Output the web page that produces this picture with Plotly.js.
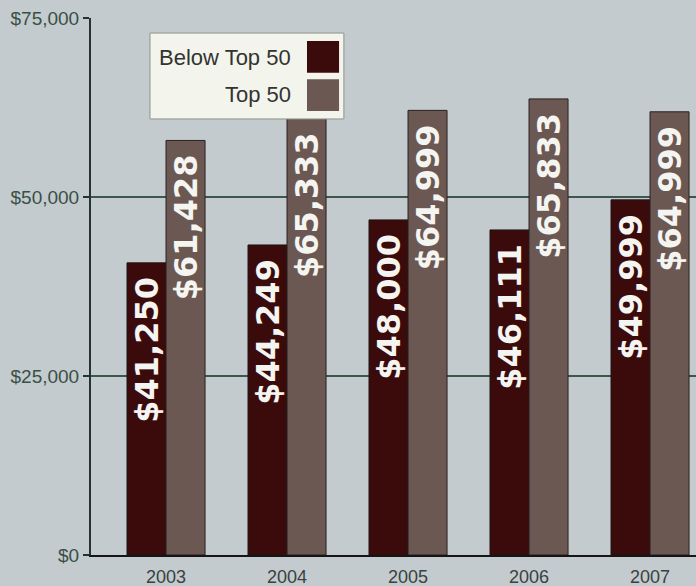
<!DOCTYPE html>
<html>
<head>
<meta charset="utf-8">
<script src="https://cdn.plot.ly/plotly-3.0.1.min.js"></script>
<style>html,body{margin:0;padding:0;background:#c3cbce;}#chart{width:696px;height:586px;}</style>
</head>
<body>
<div id="chart"></div>
<script>
// Categories and series (bar heights as drawn in the picture; labels as printed on the bars)
var years = ['2003', '2004', '2005', '2006', '2007'];
var belowTop50 = [40800, 43300, 46800, 45400, 49600];
var top50 = [57900, 61000, 62100, 63700, 61900];
var belowLabels = ['$41,250', '$44,249', '$48,000', '$46,111', '$49,999'];
var top50Labels = ['$61,428', '$65,333', '$64,999', '$65,833', '$64,999'];
var seriesNames = ['Below Top 50', 'Top 50'];
var yTicks = [0, 25000, 50000, 75000];
var yTickText = ['$0', '$25,000', '$50,000', '$75,000'];

var colBelow = '#3b0b0c';
var colTop = '#6c5853';
var txtFont = {family: 'DejaVu Sans', size: 32, color: '#f4f4f0', weight: 'bold'};
function padLabel(s) { return s + '\u00a0'; }

var traces = [
  {type: 'bar', name: seriesNames[0], x: years, y: belowTop50, text: belowLabels.map(padLabel),
   textposition: 'inside', insidetextanchor: 'end', textangle: -90, constraintext: 'none',
   textfont: txtFont, hoverinfo: 'none',
   marker: {color: colBelow, line: {color: '#1e1414', width: 1}}},
  {type: 'bar', name: seriesNames[1], x: years, y: top50, text: top50Labels.map(padLabel),
   textposition: 'inside', insidetextanchor: 'end', textangle: -90, constraintext: 'none',
   textfont: txtFont, hoverinfo: 'none',
   marker: {color: colTop, line: {color: '#2a2020', width: 1}}}
];

// manual legend (text left, swatch right)
var shapes = [
  {type: 'rect', xref: 'paper', yref: 'paper', x0: 0.0975, x1: 0.418, y0: 0.812, y1: 0.972,
   fillcolor: '#f3f5ec', line: {color: '#8d948c', width: 1}, layer: 'above'},
  {type: 'rect', xref: 'paper', yref: 'paper', x0: 0.357, x1: 0.410, y0: 0.898, y1: 0.957,
   fillcolor: colBelow, line: {width: 0}, layer: 'above'},
  {type: 'rect', xref: 'paper', yref: 'paper', x0: 0.357, x1: 0.410, y0: 0.827, y1: 0.886,
   fillcolor: colTop, line: {width: 0}, layer: 'above'}
];
var annotations = [
  {xref: 'paper', yref: 'paper', x: 0.334, y: 0.927, xanchor: 'right', yanchor: 'middle', showarrow: false,
   text: seriesNames[0], font: {family: 'Liberation Sans, Arial, sans-serif', size: 22, color: '#333333'}},
  {xref: 'paper', yref: 'paper', x: 0.334, y: 0.857, xanchor: 'right', yanchor: 'middle', showarrow: false,
   text: seriesNames[1], font: {family: 'Liberation Sans, Arial, sans-serif', size: 22, color: '#333333'}}
];

var layout = {
  width: 696, height: 586,
  margin: {l: 91, r: 0, t: 18, b: 31, pad: 0},
  paper_bgcolor: '#c3cbce', plot_bgcolor: '#c3cbce',
  barmode: 'group', bargap: 0.355, bargroupgap: 0,
  showlegend: false,
  font: {family: 'Liberation Sans, Arial, sans-serif', color: '#3a4a43'},
  xaxis: {type: 'category', range: [-0.62, 4.38], showgrid: false, zeroline: false,
          showline: true, linecolor: '#151515', linewidth: 2, ticks: '',
          tickfont: {size: 18, color: '#3a4140'}, ticklabelstandoff: 4},
  yaxis: {range: [0, 75000], tickvals: yTicks, ticktext: yTickText,
          showgrid: true, gridcolor: '#3e574c', gridwidth: 1.5, zeroline: false,
          showline: true, linecolor: '#23332d', linewidth: 2,
          ticks: 'outside', ticklen: 6, tickcolor: '#23332d', tickwidth: 1.5,
          tickfont: {size: 19, color: '#3a4f46'}},
  shapes: shapes,
  annotations: annotations
};

Plotly.newPlot('chart', traces, layout, {displayModeBar: false, staticPlot: true});
</script>
</body>
</html>
